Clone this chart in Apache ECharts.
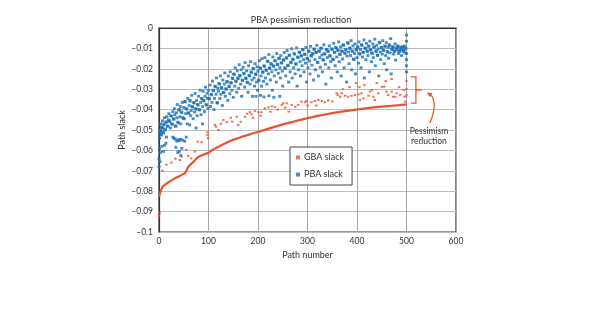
<!DOCTYPE html>
<html>
<head>
<meta charset="utf-8">
<script src="https://cdn.jsdelivr.net/npm/echarts@6/dist/echarts.min.js"></script>
<style>
  html, body { margin: 0; padding: 0; background: #fff; }
  #chart { width: 595px; height: 335px; }
</style>
</head>
<body>
<div id="chart"></div>
<script>
// Path slack per path: GBA (graph-based) vs PBA (path-based) timing analysis
const chartTitle = 'PBA pessimism reduction';
const xName = 'Path number';
const yName = 'Path slack';
const xTicks = [0, 100, 200, 300, 400, 500, 600];
const yTicks = [0, -0.01, -0.02, -0.03, -0.04, -0.05, -0.06, -0.07, -0.08, -0.09, -0.1];
const annotationText = 'Pessimism\nreduction';

// Sorted GBA slack, drawn as the lower envelope
const gbaCurve = [
  [0,-0.0825],[2,-0.081],[5,-0.079],[8,-0.0775],[12,-0.0768],[18,-0.0758],[22,-0.0752],[32,-0.0737],
  [40,-0.0728],[46,-0.072],[52,-0.0712],[55,-0.0702],[58,-0.0685],[63,-0.067],[68,-0.066],[73,-0.0647],
  [78,-0.0635],[83,-0.0627],[93,-0.0618],[100,-0.0612],[105,-0.0602],[110,-0.0595],[118,-0.0584],
  [127,-0.0574],[140,-0.0558],[150,-0.0548],[160,-0.054],[170,-0.0531],[180,-0.0524],[190,-0.0516],
  [200,-0.051],[215,-0.0498],[230,-0.0487],[245,-0.0476],[260,-0.0466],[275,-0.0457],[290,-0.0448],
  [305,-0.0439],[320,-0.0431],[335,-0.0424],[350,-0.0417],[365,-0.0411],[380,-0.0406],[395,-0.0401],
  [410,-0.0396],[425,-0.0392],[440,-0.0388],[455,-0.0384],[470,-0.0381],[485,-0.0378],[500,-0.0374]
];

// GBA slack of paths lying above the envelope
const gbaScatter = [
  [0,-0.092],[1,-0.0905],[7,-0.070],[15,-0.067],[25,-0.066],[33,-0.064],[42,-0.0647],[46,-0.063],
  [55,-0.0598],[59,-0.0627],[65,-0.0639],[73,-0.0606],[78,-0.0557],[86,-0.056],
  [98,-0.0511],[98,-0.0525],[99,-0.054],[113,-0.0475],[115,-0.0484],[120,-0.050],[125,-0.047],
  [130,-0.0451],[137,-0.0462],[145,-0.044],[148,-0.0459],[157,-0.0435],[160,-0.0475],
  [165,-0.046],[174,-0.0435],[178,-0.042],[184,-0.0413],[187,-0.0423],[190,-0.044],
  [194,-0.0407],[201,-0.0413],[205,-0.043],[207,-0.0413],[214,-0.0394],[221,-0.0389],
  [225,-0.041],[228,-0.0384],[234,-0.0387],[240,-0.040],[248,-0.0377],[251,-0.0369],
  [255,-0.039],[258,-0.0369],[262,-0.041],[268,-0.0377],[275,-0.0386],[281,-0.0377],
  [288,-0.0361],[295,-0.0364],[298,-0.0358],[300,-0.038],[308,-0.0364],[315,-0.0358],
  [318,-0.038],[322,-0.0353],[329,-0.0358],[335,-0.0364],[342,-0.0355],[350,-0.036],
  [359,-0.032],[361,-0.0328],[366,-0.0337],[369,-0.032],[372,-0.030],[376,-0.0332],
  [382,-0.0337],[385,-0.029],[389,-0.0332],[396,-0.0328],[398,-0.027],[403,-0.0325],
  [405,-0.029],[406,-0.0353],[409,-0.032],[413,-0.0345],[415,-0.028],[423,-0.0332],
  [426,-0.0312],[430,-0.0304],[433,-0.0337],[436,-0.0353],[440,-0.027],[443,-0.032],
  [450,-0.0288],[455,-0.0288],[458,-0.026],[460,-0.0312],[463,-0.0328],[470,-0.0312],
  [470,-0.025],[473,-0.0337],[477,-0.0337],[480,-0.032],[485,-0.029],[487,-0.0328],
  [494,-0.0304],[496,-0.0337],[497,-0.0361],[500,-0.026],[500,-0.030],[500,-0.033]
];

// PBA slack per path
const pbaSlack = [
  [0,-0.064],[0,-0.068],[1,-0.059],[1,-0.054],[2,-0.051],[2,-0.0505],[3,-0.050],[3,-0.047],[4,-0.0525],
  [5,-0.052],[5,-0.0485],[6,-0.049],[7,-0.049],[7,-0.0455],[8,-0.051],[9,-0.0515],[10,-0.047],[10,-0.0475],
  [11,-0.044],[12,-0.050],[13,-0.0495],[14,-0.046],[15,-0.0462],[15,-0.0535],[16,-0.0435],[17,-0.048],
  [18,-0.0482],[19,-0.045],[20,-0.042],[21,-0.0455],[22,-0.046],[23,-0.049],[24,-0.043],[25,-0.0432],
  [3,-0.061],[6,-0.058],[9,-0.0605],[11,-0.0575],[14,-0.0565],[2,-0.0655],
  [26,-0.047],[27,-0.0472],[28,-0.041],[29,-0.0445],[30,-0.0448],[31,-0.0395],[32,-0.0425],[33,-0.048],
  [34,-0.0482],[35,-0.0415],[36,-0.044],[37,-0.0375],[38,-0.0462],[39,-0.0465],[40,-0.040],[41,-0.0402],
  [42,-0.0435],[43,-0.0385],[44,-0.047],[45,-0.0412],[46,-0.0415],[47,-0.0365],[48,-0.044],[49,-0.0442],
  [50,-0.039],
  [28,-0.0535],[30,-0.054],[33,-0.0545],[36,-0.0555],[39,-0.0548],[41,-0.0552],[44,-0.0545],[48,-0.055],
  [52,-0.0555],[55,-0.0535],[38,-0.061],[41,-0.0605],[44,-0.0625],[46,-0.059],[34,-0.0585],
  [51,-0.0445],[52,-0.036],[53,-0.0362],[54,-0.042],[55,-0.0395],[56,-0.0398],[57,-0.047],[58,-0.0345],
  [59,-0.0415],[60,-0.0418],[61,-0.038],[62,-0.0355],[63,-0.0358],[64,-0.043],[65,-0.0405],[66,-0.033],
  [67,-0.0385],[68,-0.0388],[69,-0.0445],[70,-0.0365],[71,-0.0368],[72,-0.0412],[73,-0.032],[74,-0.0395],
  [75,-0.0398],[76,-0.0355],[77,-0.043],[78,-0.0375],[79,-0.0378],[80,-0.0335],[81,-0.040],[82,-0.0402],
  [83,-0.0305],[84,-0.0365],[85,-0.0425],[86,-0.0345],[87,-0.0348],[88,-0.0385],[89,-0.031],[90,-0.0355],
  [91,-0.0358],[92,-0.041],[93,-0.0335],[94,-0.029],[95,-0.0375],[96,-0.0378],[97,-0.032],[98,-0.0345],
  [99,-0.0395],[100,-0.0305],[62,-0.0475],[75,-0.049],[88,-0.047],
  [101,-0.0345],[102,-0.0348],[103,-0.028],[104,-0.0385],[105,-0.0325],[106,-0.0328],[107,-0.0365],
  [108,-0.026],[109,-0.0305],[110,-0.0308],[111,-0.040],[112,-0.0345],[113,-0.0285],[114,-0.0288],
  [115,-0.0325],[116,-0.0245],[117,-0.0365],[118,-0.0368],[119,-0.0295],[120,-0.031],[121,-0.0272],
  [122,-0.0275],[123,-0.0345],[124,-0.0235],[125,-0.0325],[126,-0.0292],[127,-0.0295],[128,-0.038],
  [129,-0.0255],[130,-0.0315],[131,-0.0318],[132,-0.0275],[133,-0.022],[134,-0.0335],[135,-0.0298],
  [136,-0.030],[137,-0.0262],[138,-0.0265],[139,-0.0355],[140,-0.0235],[141,-0.0285],[142,-0.0288],
  [143,-0.0322],[144,-0.0215],[145,-0.0268],[146,-0.027],[147,-0.0305],[148,-0.0245],[149,-0.0248],
  [150,-0.034],
  [151,-0.0225],[152,-0.0228],[153,-0.0285],[154,-0.0195],[155,-0.026],[156,-0.0262],[157,-0.0315],
  [158,-0.021],[159,-0.0245],[160,-0.0248],[161,-0.0295],[162,-0.018],[163,-0.0232],[164,-0.0235],
  [165,-0.0275],[166,-0.0205],[167,-0.0335],[168,-0.0255],[169,-0.0258],[170,-0.0192],[171,-0.0222],
  [172,-0.0225],[173,-0.029],[174,-0.017],[175,-0.0245],[176,-0.0248],[177,-0.021],[178,-0.0265],
  [179,-0.0268],[180,-0.0315],[181,-0.0185],[182,-0.0232],[183,-0.0235],[184,-0.0275],[185,-0.0165],
  [186,-0.0215],[187,-0.0218],[188,-0.0255],[189,-0.0335],[190,-0.0198],[191,-0.020],[192,-0.0245],
  [193,-0.0285],[194,-0.0175],[195,-0.0225],[196,-0.0228],[197,-0.0265],[198,-0.019],[199,-0.0305],
  [200,-0.0212],
  [196,-0.0335],[205,-0.033],[212,-0.0338],[222,-0.0332],[232,-0.034],[244,-0.0335],
  [201,-0.0255],[202,-0.0258],[203,-0.016],[204,-0.0195],[205,-0.0198],[206,-0.0235],[207,-0.0285],
  [208,-0.015],[209,-0.0215],[210,-0.0218],[211,-0.0262],[212,-0.0185],[213,-0.0188],[214,-0.0145],
  [215,-0.0245],[216,-0.0205],[217,-0.0208],[218,-0.0275],[219,-0.0162],[220,-0.0165],[221,-0.0225],
  [222,-0.013],[223,-0.0195],[224,-0.0198],[225,-0.0255],[226,-0.0175],[227,-0.0178],[228,-0.0215],
  [229,-0.0305],[230,-0.0142],[231,-0.0185],[232,-0.0188],[233,-0.0235],[234,-0.016],[235,-0.0162],
  [236,-0.0205],[237,-0.0265],[238,-0.0125],[239,-0.0178],[240,-0.018],[241,-0.0222],[242,-0.0148],
  [243,-0.015],[244,-0.0195],[245,-0.0245],[246,-0.0135],[247,-0.017],[248,-0.0172],[249,-0.0212],
  [250,-0.0285],
  [251,-0.0155],[252,-0.0158],[253,-0.012],[254,-0.0195],[255,-0.0198],[256,-0.0235],[257,-0.0145],
  [258,-0.0148],[259,-0.011],[260,-0.0182],[261,-0.0185],[262,-0.0265],[263,-0.0132],[264,-0.0135],
  [265,-0.0215],[266,-0.0168],[267,-0.017],[268,-0.0102],[269,-0.0245],[270,-0.0152],[271,-0.0155],
  [272,-0.0195],[273,-0.0125],[274,-0.0128],[275,-0.0225],[276,-0.0175],[277,-0.0178],[278,-0.0098],
  [279,-0.0285],[280,-0.0142],[281,-0.0145],[282,-0.0205],[283,-0.0118],[284,-0.012],[285,-0.0165],
  [286,-0.0235],[287,-0.0135],[288,-0.0138],[289,-0.0185],[290,-0.0105],[291,-0.0108],[292,-0.0155],
  [293,-0.0215],[294,-0.0128],[295,-0.013],[296,-0.0172],[297,-0.0095],[298,-0.0265],[299,-0.0148],
  [300,-0.015],
  [301,-0.0195],[302,-0.0112],[303,-0.0115],[304,-0.0162],[305,-0.0225],[306,-0.009],[307,-0.0135],
  [308,-0.0138],[309,-0.0182],[310,-0.0125],[311,-0.0128],[312,-0.0255],[313,-0.0102],[314,-0.0105],
  [315,-0.0155],[316,-0.0205],[317,-0.0118],[318,-0.012],[319,-0.0085],[320,-0.0168],[321,-0.017],
  [322,-0.0235],[323,-0.0112],[324,-0.0115],[325,-0.0145],[326,-0.0192],[327,-0.0098],[328,-0.01],
  [329,-0.0132],[330,-0.0215],[331,-0.0155],[332,-0.0158],[333,-0.0082],[334,-0.0125],[335,-0.0128],
  [336,-0.0178],[337,-0.0275],[338,-0.0105],[339,-0.0108],[340,-0.0145],[341,-0.0112],[342,-0.0115],
  [343,-0.0195],[344,-0.0088],[345,-0.0135],[346,-0.0138],[347,-0.0165],[348,-0.0245],[349,-0.0102],
  [350,-0.0105],
  [351,-0.0152],[352,-0.0155],[353,-0.0075],[354,-0.0118],[355,-0.012],[356,-0.0185],[357,-0.0095],
  [358,-0.0098],[359,-0.0142],[360,-0.0215],[361,-0.0108],[362,-0.011],[363,-0.0068],[364,-0.0165],
  [365,-0.0128],[366,-0.013],[367,-0.0092],[368,-0.0235],[369,-0.0112],[370,-0.0115],[371,-0.0152],
  [372,-0.0082],[373,-0.0085],[374,-0.0195],[375,-0.0122],[376,-0.0125],[377,-0.0105],[378,-0.0108],
  [379,-0.0265],[380,-0.0138],[381,-0.0072],[382,-0.0075],[383,-0.0118],[384,-0.0175],[385,-0.0098],
  [386,-0.01],[387,-0.0135],[388,-0.0062],[389,-0.0205],[390,-0.0112],[391,-0.0115],[392,-0.0088],
  [393,-0.0152],[394,-0.0155],[395,-0.0125],[396,-0.0078],[397,-0.0225],[398,-0.0105],[399,-0.0108],
  [400,-0.0145],
  [401,-0.0092],[402,-0.0095],[403,-0.0172],[404,-0.0068],[405,-0.0125],[406,-0.0128],[407,-0.0105],
  [408,-0.0195],[409,-0.0082],[410,-0.0085],[411,-0.0142],[412,-0.0118],[413,-0.012],[414,-0.0058],
  [415,-0.0245],[416,-0.0098],[417,-0.01],[418,-0.0155],[419,-0.0075],[420,-0.0112],[421,-0.0115],
  [422,-0.0135],[423,-0.0088],[424,-0.009],[425,-0.0215],[426,-0.0065],[427,-0.0105],[428,-0.0108],
  [429,-0.0165],[430,-0.0122],[431,-0.0125],[432,-0.0078],[433,-0.0145],[434,-0.0092],[435,-0.0095],
  [436,-0.0055],[437,-0.0185],[438,-0.0112],[439,-0.0115],[440,-0.0085],[441,-0.0132],[442,-0.0135],
  [443,-0.0102],[444,-0.0235],[445,-0.007],[446,-0.0072],[447,-0.0118],[448,-0.0155],[449,-0.0095],
  [450,-0.0098],
  [451,-0.0128],[452,-0.0062],[453,-0.0108],[454,-0.011],[455,-0.0175],[456,-0.0088],[457,-0.009],
  [458,-0.0135],[459,-0.0072],[460,-0.0205],[461,-0.0115],[462,-0.0118],[463,-0.0095],[464,-0.0148],
  [465,-0.0082],[466,-0.0085],[467,-0.0122],[468,-0.0052],[469,-0.0225],[470,-0.0102],[471,-0.0105],
  [472,-0.0092],[473,-0.0095],[474,-0.0128],[475,-0.0112],[476,-0.0115],[477,-0.0078],[478,-0.0158],
  [479,-0.0098],[480,-0.01],[481,-0.0108],[482,-0.0088],[483,-0.009],[484,-0.0125],[485,-0.0112],
  [486,-0.0115],[487,-0.0095],[488,-0.0102],[489,-0.0105],[490,-0.0135],[491,-0.0092],[492,-0.0094],
  [493,-0.0115],[494,-0.0108],[495,-0.011],[496,-0.0088],[497,-0.0122],[498,-0.0098],[499,-0.01],
  [500,-0.0035],[500,-0.0065],[500,-0.0125],[500,-0.0155],[500,-0.0185],[500,-0.0215]
];

// Bracket spanning the reduction band, in data units
const bracketX = 519, bracketTop = -0.024, bracketBottom = -0.0368;

const ORANGE = '#e9522b';
const BLUE = '#1a70b8';
const FONT = 'Lato, "DejaVu Sans", sans-serif';
const TEXT = '#333';

const chart = echarts.init(document.getElementById('chart'), null, { renderer: 'canvas' });

const dashLabel = v => {
  const r = Math.round(v * 1000) / 1000;
  return r === 0 ? '0' : String(r).replace('-', '\u2013');
};

chart.setOption({
  animation: false,
  backgroundColor: '#fff',
  title: {
    text: chartTitle,
    left: 296, top: 11, textAlign: 'center',
    textStyle: { fontFamily: FONT, fontSize: 9, fontWeight: 'normal', color: TEXT }
  },
  grid: { left: 159, right: 139, top: 28, bottom: 103, show: true, borderColor: '#333', borderWidth: 1.2 },
  legend: {
    orient: 'vertical', left: 290, top: 147,
    padding: [6, 8, 6, 6], itemGap: 8, itemWidth: 4, itemHeight: 4,
    backgroundColor: '#fff', borderColor: '#444', borderWidth: 1,
    textStyle: { fontFamily: FONT, fontSize: 9, color: TEXT, padding: [0, 0, 0, -1] },
    data: [{ name: 'GBA slack', icon: 'rect' }, { name: 'PBA slack', icon: 'rect' }]
  },
  xAxis: {
    type: 'value', min: xTicks[0], max: xTicks[xTicks.length - 1], interval: 100,
    name: xName, nameLocation: 'middle', nameGap: 18,
    nameTextStyle: { fontFamily: FONT, fontSize: 9, color: TEXT },
    axisLine: { lineStyle: { color: '#333', width: 1.2 } },
    axisTick: { show: false },
    axisLabel: { fontFamily: FONT, fontSize: 8.5, color: TEXT, margin: 5 },
    splitLine: { lineStyle: { color: '#a8a8a8', width: 1 } }
  },
  yAxis: {
    type: 'value', min: yTicks[yTicks.length - 1], max: yTicks[0], interval: 0.01,
    name: yName, nameLocation: 'middle', nameGap: 32, nameRotate: 90,
    nameTextStyle: { fontFamily: FONT, fontSize: 9, color: TEXT },
    axisLine: { lineStyle: { color: '#333', width: 1.2 } },
    axisTick: { show: false },
    axisLabel: { fontFamily: FONT, fontSize: 8.5, color: TEXT, margin: 6, formatter: dashLabel },
    splitLine: { lineStyle: { color: '#bdbdbd', width: 1 } }
  },
  series: [
    {
      name: 'PBA slack', type: 'scatter', data: pbaSlack,
      symbol: 'rect', symbolSize: [3, 2.8], itemStyle: { color: BLUE }, z: 3
    },
    {
      name: 'GBA slack', type: 'scatter', data: gbaScatter,
      symbol: 'rect', symbolSize: [2.4, 2], itemStyle: { color: ORANGE }, z: 4
    },
    {
      name: 'GBA slack', type: 'line', data: gbaCurve,
      showSymbol: false, symbol: 'none',
      lineStyle: { color: ORANGE, width: 2.2 }, itemStyle: { color: ORANGE }, z: 5
    }
  ]
});

// Annotation: bracket, curved arrow and label, placed from data coordinates
function drawAnnotation() {
  const px = p => chart.convertToPixel({ gridIndex: 0 }, p);
  const top = px([bracketX, bracketTop]);
  const bot = px([bracketX, bracketBottom]);
  const mid = px([bracketX, (bracketTop + bracketBottom) / 2]);
  const tickL = 5, tickR = 6;
  const head = [mid[0] + 11, mid[1] + 2.5];
  const ctrl = [mid[0] + 20, mid[1] + 8];
  const tail = [mid[0] + 14, mid[1] + 33];
  const dx = head[0] - ctrl[0], dy = head[1] - ctrl[1];
  const len = Math.hypot(dx, dy);
  const ux = dx / len, uy = dy / len;
  const back = [head[0] - ux * 5, head[1] - uy * 5];
  const arrowHead = [
    head,
    [back[0] - uy * 2.4, back[1] + ux * 2.4],
    [back[0] + uy * 2.4, back[1] - ux * 2.4]
  ];
  const stroke = { stroke: ORANGE, lineWidth: 1.3, fill: null };
  chart.setOption({
    graphic: [
      { type: 'polyline', silent: true, shape: { points: [[top[0] - tickL, top[1]], top, bot, [bot[0] - tickL, bot[1]]] }, style: stroke },
      { type: 'line', silent: true, shape: { x1: mid[0], y1: mid[1], x2: mid[0] + tickR, y2: mid[1] }, style: stroke },
      { type: 'bezierCurve', silent: true, shape: { x1: tail[0], y1: tail[1], x2: back[0], y2: back[1], cpx1: ctrl[0] + 2, cpy1: ctrl[1] + 6 }, style: stroke },
      { type: 'polygon', silent: true, shape: { points: arrowHead }, style: { fill: ORANGE } },
      {
        type: 'text', silent: true, x: tail[0] - 1, y: tail[1] + 3,
        style: { text: annotationText, fontFamily: FONT, fontSize: 8.5, fill: TEXT, align: 'center', verticalAlign: 'top', lineHeight: 10 }
      }
    ]
  });
}
drawAnnotation();
</script>
</body>
</html>
